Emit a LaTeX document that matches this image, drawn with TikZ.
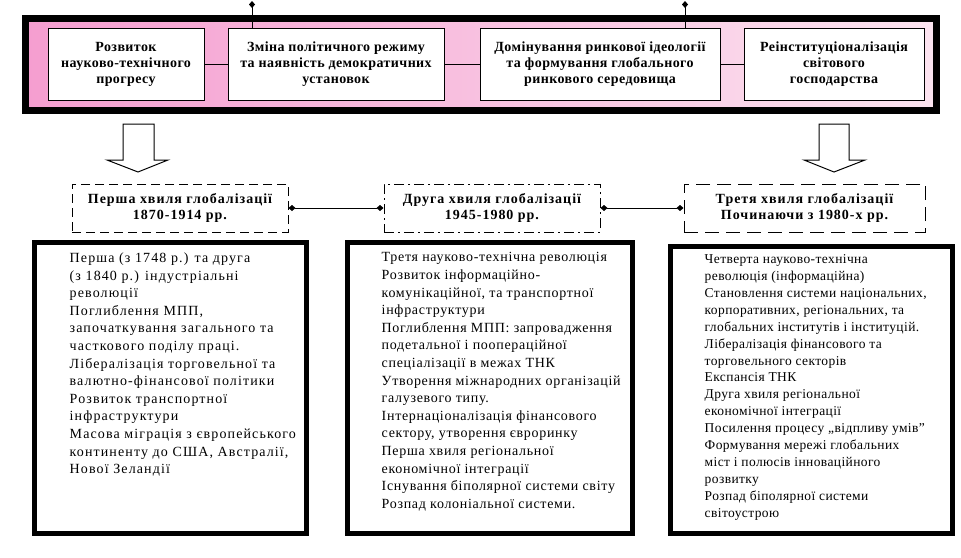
\documentclass[tikz,border=0pt]{standalone}
\usepackage{fontspec}
\setmainfont{Liberation Serif}
\usetikzlibrary{arrows.meta,positioning}

\definecolor{pinkL}{RGB}{245,158,208}
\definecolor{pinkR}{RGB}{252,228,240}

\tikzset{
	topbox/.style={draw,fill=white,line width=1pt,align=center,minimum height=72pt,inner sep=1pt,font=\bfseries\fontsize{14}{16}\selectfont\addfontfeatures{LetterSpace=3}},
	wavebox/.style={draw,line width=1pt,align=center,minimum height=48pt,inner sep=1pt,font=\bfseries\fontsize{14}{16}\selectfont\addfontfeatures{LetterSpace=7}},
	listbox/.style={draw,line width=5pt,fill=white},
	listtext/.style={anchor=north west,align=left,inner sep=0pt,font=\fontsize{14}{17.6}\selectfont},
	blockarrow/.style={draw,fill=white,line width=1pt},
	dotlink/.style={line width=1pt,{Diamond[length=7pt,width=6pt]}-{Diamond[length=7pt,width=6pt]}}
}

\begin{document}
\begin{tikzpicture}[x=1pt,y=-1pt]
\useasboundingbox (0,0) rectangle (961,557);

% factors
\draw[line width=7pt,left color=pinkL,right color=pinkR] (25.5,18) rectangle (936.5,110.5);
\node[topbox,minimum width=156pt] (nauka) at (126,64) {Розвиток\\науково-технічного\\прогресу};
\node[topbox,minimum width=216pt] (zmina) at (336,64) {Зміна  політичного режиму\\та наявність демократичних\\установок};
\node[topbox,minimum width=240pt] (rynok) at (600,64) {Домінування ринкової ідеології\\та формування  глобального\\ринкового  середовища};
\node[topbox,minimum width=180pt] (reinst) at (834,64) {Реінституціоналізація\\світового\\господарства};
\draw[line width=1pt] (nauka) -- (zmina);
\draw[line width=1pt] (zmina) -- (rynok);
\draw[line width=1pt] (rynok) -- (reinst);

\coordinate (topA) at (252,1);
\coordinate (topB) at (685,1);
\draw[line width=1pt,{Diamond[length=7pt,width=6pt]}-] (topA) -- (topA |- zmina.north);
\draw[line width=1pt,{Diamond[length=7pt,width=6pt]}-] (topB) -- (topB |- rynok.north);

% arrows
\draw[blockarrow] (123,124) -- (154,124) -- (154,160) -- (168,160) -- (138,172) -- (107,160) -- (123,160) -- cycle;
\draw[blockarrow] (819,124) -- (849,124) -- (849,160) -- (865,160) -- (834,172) -- (804,160) -- (819,160) -- cycle;

% waves
\node[wavebox,minimum width=216pt,dash pattern=on 9pt off 5pt] (hvyla1) at (180,208) {Перша хвиля глобалізації\\1870-1914 рр.};
\node[wavebox,minimum width=216pt,dash pattern=on 10pt off 4pt on 2pt off 4pt] (hvyla2) at (492,208) {Друга  хвиля глобалізації\\1945-1980 рр.};
\node[wavebox,minimum width=241pt,dash pattern=on 14pt off 7pt] (hvyla3) at (804.5,208) {Третя хвиля глобалізації\\Починаючи з 1980-х  рр.};
\draw[dotlink] (hvyla1) -- (hvyla2);
\draw[dotlink] (hvyla2) -- (hvyla3);

% lists
\node[listbox,minimum width=272pt,minimum height=291pt] (spysok1) at (170,387.5) {};
\node[listbox,minimum width=285pt,minimum height=291pt] (spysok2) at (489.5,387.5) {};
\node[listbox,minimum width=282pt,minimum height=287pt] (spysok3) at (811,389.5) {};

\node[listtext,font=\fontsize{14}{17.6}\selectfont\addfontfeatures{LetterSpace=8}] (tekst1) at ([xshift=38pt,yshift=-13pt]spysok1.north west) {Перша (з 1748 р.) та друга\\(з 1840 р.) індустріальні\\революції\\Поглиблення МПП,\\започаткування  загального та\\часткового поділу  праці.\\Лібералізація торговельної та\\валютно-фінансової політики\\Розвиток  транспортної\\інфраструктури\\Масова  міграція з європейського\\континенту  до США, Австралії,\\Нової Зеландії};
\node[listtext,font=\fontsize{14}{17.6}\selectfont\addfontfeatures{LetterSpace=5}] (tekst2) at ([xshift=37pt,yshift=-13pt]spysok2.north west) {Третя науково-технічна  революція\\Розвиток інформаційно-\\комунікаційної, та  транспортної\\інфраструктури\\Поглиблення МПП: запровадження\\подетальної і поопераційної\\спеціалізації в межах ТНК\\Утворення міжнародних організацій\\галузевого типу.\\Інтернаціоналізація  фінансового\\сектору, утворення євроринку\\Перша  хвиля регіональної\\економічної  інтеграції\\Існування біполярної системи світу\\Розпад колоніальної системи.};
\node[listtext,font=\fontsize{13.5}{16.9}\selectfont\addfontfeatures{LetterSpace=3}] (tekst3) at ([xshift=37pt,yshift=-11pt]spysok3.north west) {Четверта науково-технічна\\революція (інформаційна)\\Становлення системи національних,\\корпоративних, регіональних, та\\глобальних інститутів і інституцій.\\Лібералізація фінансового та\\торговельного секторів\\Експансія ТНК\\Друга хвиля регіональної\\економічної інтеграції\\Посилення процесу „відпливу умів”\\Формування  мережі  глобальних\\міст  і полюсів  інноваційного\\розвитку\\Розпад біполярної  системи\\світоустрою};
\end{tikzpicture}
\end{document}
